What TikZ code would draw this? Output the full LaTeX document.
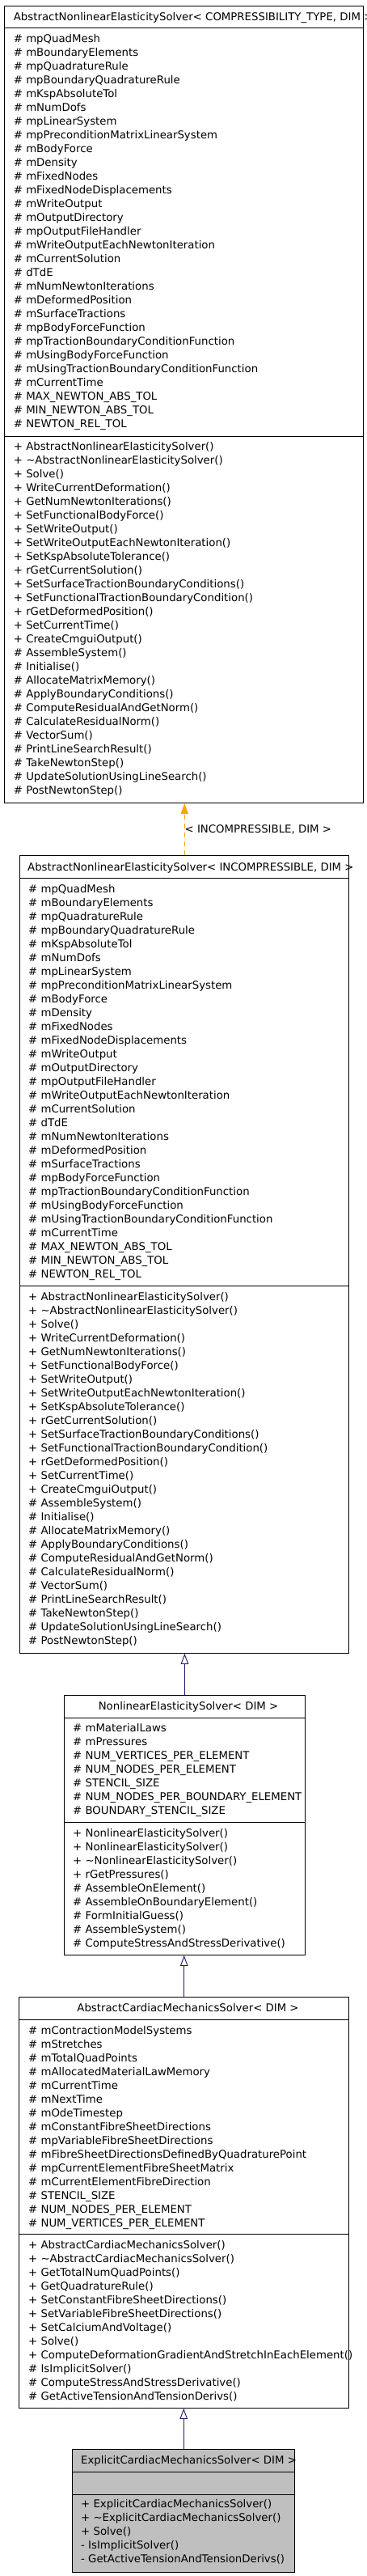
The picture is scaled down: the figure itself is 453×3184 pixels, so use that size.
\documentclass[tikz,border=0pt]{standalone}
\usepackage{fontspec}
\setmainfont{DejaVu Sans}
\usetikzlibrary{arrows.meta}

\definecolor{edgeblue}{HTML}{191970}
\definecolor{edgeorange}{HTML}{FFA500}
\definecolor{selfgrey}{HTML}{BFBFBF}

\tikzset{
	classbox/.style={draw, line width=0.9pt, rectangle, inner sep=0, anchor=north west},
	sepline/.style={line width=0.9pt},
	member/.style={anchor=base west, inner sep=0, font=\fontsize{13.3}{17}\selectfont},
	classname/.style={member},
	inherit/.style={edgeblue, line width=0.9pt, -{Triangle[open, length=13pt, width=9.5pt]}},
	instance/.style={edgeorange, line width=0.9pt, dash pattern=on 6pt off 5pt, -{Triangle[length=13pt, width=9.5pt]}}
}

\begin{document}
\begin{tikzpicture}[x=1pt, y=-1pt]
	\useasboundingbox (0,0) rectangle (453,3184);

	% AbstractNonlinearElasticitySolver< COMPRESSIBILITY_TYPE, DIM >
	\node[classbox, minimum width=443.4pt, minimum height=985pt] (base) at (5.3,7.3) {};
	\draw[sepline] (base.west |- 0,34.3) -- (base.east |- 0,34.3);
	\draw[sepline] (base.west |- 0,539.3) -- (base.east |- 0,539.3);
	\node[classname] (base-name) at (16.7,25.4) {AbstractNonlinearElasticitySolver< COMPRESSIBILITY\_TYPE, DIM >};
	\foreach \m [count=\i from 0] in {mpQuadMesh, mBoundaryElements, mpQuadratureRule, mpBoundaryQuadratureRule, mKspAbsoluteTol, mNumDofs, mpLinearSystem, mpPreconditionMatrixLinearSystem, mBodyForce, mDensity, mFixedNodes, mFixedNodeDisplacements, mWriteOutput, mOutputDirectory, mpOutputFileHandler, mWriteOutputEachNewtonIteration, mCurrentSolution, dTdE, mNumNewtonIterations, mDeformedPosition, mSurfaceTractions, mpBodyForceFunction, mpTractionBoundaryConditionFunction, mUsingBodyForceFunction, mUsingTractionBoundaryConditionFunction, mCurrentTime, MAX\_NEWTON\_ABS\_TOL, MIN\_NEWTON\_ABS\_TOL, NEWTON\_REL\_TOL}
		\node[member] (base-a\i) at (16.7,52.4+17*\i) {\# \m};
	\foreach \m [count=\i from 0] in {+ AbstractNonlinearElasticitySolver(), + \textasciitilde AbstractNonlinearElasticitySolver(), + Solve(), + WriteCurrentDeformation(), + GetNumNewtonIterations(), + SetFunctionalBodyForce(), + SetWriteOutput(), + SetWriteOutputEachNewtonIteration(), + SetKspAbsoluteTolerance(), + rGetCurrentSolution(), + SetSurfaceTractionBoundaryConditions(), + SetFunctionalTractionBoundaryCondition(), + rGetDeformedPosition(), + SetCurrentTime(), + CreateCmguiOutput(), \# AssembleSystem(), \# Initialise(), \# AllocateMatrixMemory(), \# ApplyBoundaryConditions(), \# ComputeResidualAndGetNorm(), \# CalculateResidualNorm(), \# VectorSum(), \# PrintLineSearchResult(), \# TakeNewtonStep(), \# UpdateSolutionUsingLineSearch(), \# PostNewtonStep()}
		\node[member] (base-o\i) at (16.7,556+17*\i) {\m};

	% AbstractNonlinearElasticitySolver< INCOMPRESSIBLE, DIM >
	\node[classbox, minimum width=407pt, minimum height=985.7pt] (incomp) at (24.3,1057.3) {};
	\draw[sepline] (incomp.west |- 0,1085.7) -- (incomp.east |- 0,1085.7);
	\draw[sepline] (incomp.west |- 0,1589.3) -- (incomp.east |- 0,1589.3);
	\node[classname] (incomp-name) at (34,1076.4) {AbstractNonlinearElasticitySolver< INCOMPRESSIBLE, DIM >};
	\foreach \m [count=\i from 0] in {mpQuadMesh, mBoundaryElements, mpQuadratureRule, mpBoundaryQuadratureRule, mKspAbsoluteTol, mNumDofs, mpLinearSystem, mpPreconditionMatrixLinearSystem, mBodyForce, mDensity, mFixedNodes, mFixedNodeDisplacements, mWriteOutput, mOutputDirectory, mpOutputFileHandler, mWriteOutputEachNewtonIteration, mCurrentSolution, dTdE, mNumNewtonIterations, mDeformedPosition, mSurfaceTractions, mpBodyForceFunction, mpTractionBoundaryConditionFunction, mUsingBodyForceFunction, mUsingTractionBoundaryConditionFunction, mCurrentTime, MAX\_NEWTON\_ABS\_TOL, MIN\_NEWTON\_ABS\_TOL, NEWTON\_REL\_TOL}
		\node[member] (incomp-a\i) at (35,1103+17*\i) {\# \m};
	\foreach \m [count=\i from 0] in {+ AbstractNonlinearElasticitySolver(), + \textasciitilde AbstractNonlinearElasticitySolver(), + Solve(), + WriteCurrentDeformation(), + GetNumNewtonIterations(), + SetFunctionalBodyForce(), + SetWriteOutput(), + SetWriteOutputEachNewtonIteration(), + SetKspAbsoluteTolerance(), + rGetCurrentSolution(), + SetSurfaceTractionBoundaryConditions(), + SetFunctionalTractionBoundaryCondition(), + rGetDeformedPosition(), + SetCurrentTime(), + CreateCmguiOutput(), \# AssembleSystem(), \# Initialise(), \# AllocateMatrixMemory(), \# ApplyBoundaryConditions(), \# ComputeResidualAndGetNorm(), \# CalculateResidualNorm(), \# VectorSum(), \# PrintLineSearchResult(), \# TakeNewtonStep(), \# UpdateSolutionUsingLineSearch(), \# PostNewtonStep()}
		\node[member] (incomp-o\i) at (35,1607+17*\i) {\m};

	% NonlinearElasticitySolver< DIM >
	\node[classbox, minimum width=297.4pt, minimum height=321pt] (nonlin) at (79.3,2095) {};
	\draw[sepline] (nonlin.west |- 0,2123.3) -- (nonlin.east |- 0,2123.3);
	\draw[sepline] (nonlin.west |- 0,2252.3) -- (nonlin.east |- 0,2252.3);
	\node[classname, anchor=base] (nonlin-name) at (233,2113) {NonlinearElasticitySolver< DIM >};
	\foreach \m [count=\i from 0] in {mMaterialLaws, mPressures, NUM\_VERTICES\_PER\_ELEMENT, NUM\_NODES\_PER\_ELEMENT, STENCIL\_SIZE, NUM\_NODES\_PER\_BOUNDARY\_ELEMENT, BOUNDARY\_STENCIL\_SIZE}
		\node[member] (nonlin-a\i) at (90,2140+17*\i) {\# \m};
	\foreach \m [count=\i from 0] in {+ NonlinearElasticitySolver(), + NonlinearElasticitySolver(), + \textasciitilde NonlinearElasticitySolver(), + rGetPressures(), \# AssembleOnElement(), \# AssembleOnBoundaryElement(), \# FormInitialGuess(), \# AssembleSystem(), \# ComputeStressAndStressDerivative()}
		\node[member] (nonlin-o\i) at (90,2270+17*\i) {\m};

	% AbstractCardiacMechanicsSolver< DIM >
	\node[classbox, minimum width=408pt, minimum height=507.7pt] (cardiac) at (23.3,2468.3) {};
	\draw[sepline] (cardiac.west |- 0,2496.3) -- (cardiac.east |- 0,2496.3);
	\draw[sepline] (cardiac.west |- 0,2761.7) -- (cardiac.east |- 0,2761.7);
	\node[classname, anchor=base] (cardiac-name) at (232.5,2486.4) {AbstractCardiacMechanicsSolver< DIM >};
	\foreach \m [count=\i from 0] in {mContractionModelSystems, mStretches, mTotalQuadPoints, mAllocatedMaterialLawMemory, mCurrentTime, mNextTime, mOdeTimestep, mConstantFibreSheetDirections, mpVariableFibreSheetDirections, mFibreSheetDirectionsDefinedByQuadraturePoint, mpCurrentElementFibreSheetMatrix, mCurrentElementFibreDirection, STENCIL\_SIZE, NUM\_NODES\_PER\_ELEMENT, NUM\_VERTICES\_PER\_ELEMENT}
		\node[member] (cardiac-a\i) at (35,2514+17*\i) {\# \m};
	\foreach \m [count=\i from 0] in {+ AbstractCardiacMechanicsSolver(), + \textasciitilde AbstractCardiacMechanicsSolver(), + GetTotalNumQuadPoints(), + GetQuadratureRule(), + SetConstantFibreSheetDirections(), + SetVariableFibreSheetDirections(), + SetCalciumAndVoltage(), + Solve(), + ComputeDeformationGradientAndStretchInEachElement(), \# IsImplicitSolver(), \# ComputeStressAndStressDerivative(), \# GetActiveTensionAndTensionDerivs()}
		\node[member] (cardiac-o\i) at (35,2779+17*\i) {\m};

	% ExplicitCardiacMechanicsSolver< DIM >
	\node[classbox, fill=selfgrey, minimum width=275pt, minimum height=151.7pt] (explicit) at (89.3,3027.3) {};
	\draw[sepline] (explicit.west |- 0,3055.3) -- (explicit.east |- 0,3055.3);
	\draw[sepline] (explicit.west |- 0,3083) -- (explicit.east |- 0,3083);
	\node[classname] (explicit-name) at (100,3045.4) {ExplicitCardiacMechanicsSolver< DIM >};
	\foreach \m [count=\i from 0] in {+ ExplicitCardiacMechanicsSolver(), + \textasciitilde ExplicitCardiacMechanicsSolver(), + Solve(), - IsImplicitSolver(), - GetActiveTensionAndTensionDerivs()}
		\node[member] (explicit-o\i) at (100,3099.7+17*\i) {\m};

	% edges
	\draw[instance] (incomp.north) -- node[right, inner sep=0, text=black, font=\fontsize{13.3}{17}\selectfont] (incomp-args) {< INCOMPRESSIBLE, DIM >} (incomp.north |- base.south);
	\draw[inherit] (nonlin.north) -- (nonlin.north |- incomp.south);
	\draw[inherit] (cardiac.north) -- (cardiac.north |- nonlin.south);
	\draw[inherit] (explicit.north) -- (explicit.north |- cardiac.south);
\end{tikzpicture}
\end{document}
